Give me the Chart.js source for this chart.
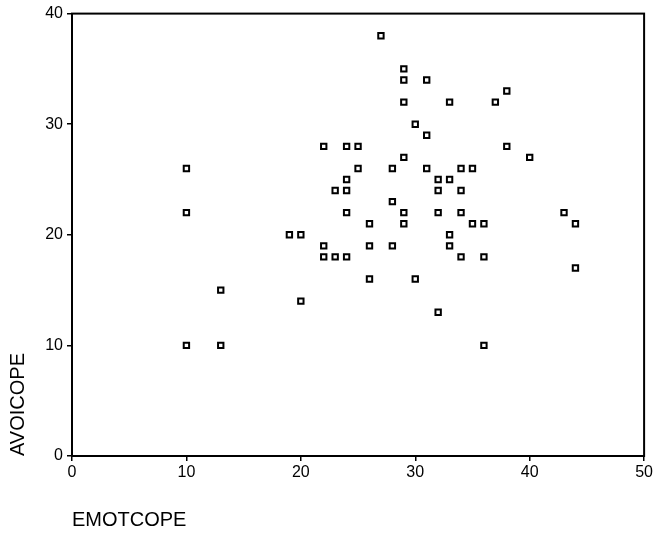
<!DOCTYPE html>
<html>
<head>
<meta charset="utf-8">
<script src="https://cdn.jsdelivr.net/npm/chart.js@4/dist/chart.umd.min.js"></script>
<style>
  body { margin: 0; background: #fff; }
  canvas { display: block; }
</style>
</head>
<body>
<canvas id="myChart" width="655" height="541"></canvas>
<script>
// EMOTCOPE vs AVOICOPE, one point per case
const emotcope = [27, 29, 29, 31, 38, 29, 33, 37, 30, 31, 22, 24, 25, 38, 29, 40, 10, 25, 28, 31, 34, 35,
                  24, 32, 33, 23, 24, 32, 34, 28, 10, 24, 29, 32, 34, 43, 26, 29, 35, 36, 44, 19, 20,
                  33, 22, 26, 28, 33, 22, 23, 24, 34, 36, 44, 26, 30, 13, 20, 32, 10, 13, 36];
const avoicope = [38, 35, 34, 34, 33, 32, 32, 32, 30, 29, 28, 28, 28, 28, 27, 27, 26, 26, 26, 26, 26, 26,
                  25, 25, 25, 24, 24, 24, 24, 23, 22, 22, 22, 22, 22, 22, 21, 21, 21, 21, 21, 20, 20,
                  20, 19, 19, 19, 19, 18, 18, 18, 18, 18, 17, 16, 16, 15, 14, 13, 10, 10, 10];
const xTicks = [0, 10, 20, 30, 40, 50];
const yTicks = [0, 10, 20, 30, 40];

const points = emotcope.map((x, i) => ({x: x, y: avoicope[i]}));

// box round the plot area
const frame = {
    id: 'frame',
    afterDraw(chart) {
        const a = chart.chartArea, ctx = chart.ctx;
        ctx.save();
        ctx.strokeStyle = '#000';
        ctx.lineWidth = 2;
        ctx.strokeRect(a.left, a.top, a.right - a.left, a.bottom - a.top);
        ctx.restore();
    }
};

const font = 'Arial, "Liberation Sans", Helvetica, sans-serif';
Chart.defaults.font.family = font;
Chart.defaults.color = '#000';

var ctx = document.getElementById('myChart').getContext('2d');
new Chart(ctx, {
    type: 'scatter',
    data: {
        datasets: [{
            data: points,
            pointStyle: 'rect',
            pointRadius: 3.8,
            borderColor: '#000',
            backgroundColor: '#fff',
            borderWidth: 2
        }]
    },
    options: {
        responsive: false,
        animation: false,
        devicePixelRatio: 1,
        layout: {padding: {top: 12, right: 10, left: 0, bottom: 0}},
        plugins: {legend: {display: false}, tooltip: {enabled: false}},
        scales: {
            x: {
                type: 'linear',
                min: 0, max: 50,
                afterBuildTicks: s => { s.ticks = xTicks.map(v => ({value: v})); },
                afterFit: s => { s.height = 85; },
                grid: {drawOnChartArea: false, color: '#000', tickLength: 5, lineWidth: 1.5},
                border: {display: true, color: '#000', width: 2},
                ticks: {font: {size: 16}, padding: 2, maxRotation: 0},
                title: {display: true, text: 'EMOTCOPE', align: 'start', font: {size: 20}, padding: {top: 0, bottom: 9}}
            },
            y: {
                type: 'linear',
                min: 0, max: 40,
                afterBuildTicks: s => { s.ticks = yTicks.map(v => ({value: v})); },
                afterFit: s => { s.width = 72; },
                grid: {drawOnChartArea: false, color: '#000', tickLength: 5, lineWidth: 1.5},
                border: {display: true, color: '#000', width: 2},
                ticks: {font: {size: 16}, padding: 4},
                title: {display: true, text: 'AVOICOPE', align: 'start', font: {size: 20}, padding: {top: 6, bottom: 0}}
            }
        }
    },
    plugins: [frame]
});
</script>
</body>
</html>
